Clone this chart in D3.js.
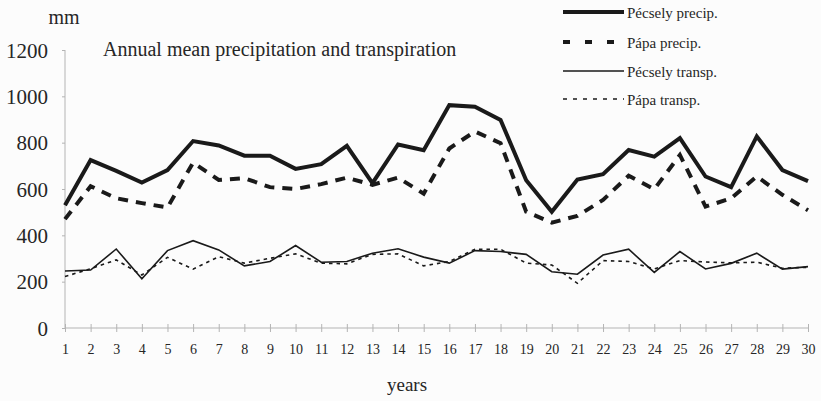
<!DOCTYPE html>
<html>
<head>
<meta charset="utf-8">
<script src="https://cdn.jsdelivr.net/npm/d3@7"></script>
<style>
  body { margin: 0; background: #fcfcfc; }
  svg { display: block; font-family: "Liberation Serif", "Times New Roman", serif; }
</style>
</head>
<body>
<svg class="d3-content" width="821" height="401"></svg>
<script>
//data
const years = [1, 2, 3, 4, 5, 6, 7, 8, 9, 10, 11, 12, 13, 14, 15, 16, 17, 18, 19, 20, 21, 22, 23, 24, 25, 26, 27, 28, 29, 30]
const pecselyPrecip = [530, 725, 678, 628, 682, 807, 788, 744, 744, 687, 707, 786, 625, 792, 767, 962, 955, 898, 638, 502, 641, 664, 768, 740, 820, 654, 608, 827, 682, 634]
const papaPrecip = [470, 612, 560, 539, 520, 714, 639, 647, 608, 600, 621, 649, 618, 649, 580, 775, 848, 798, 502, 455, 484, 553, 657, 599, 747, 524, 560, 654, 575, 508]
const pecselyTransp = [246, 250, 341, 212, 334, 377, 337, 268, 287, 356, 284, 287, 323, 342, 306, 280, 334, 330, 318, 243, 232, 315, 340, 240, 330, 255, 279, 323, 254, 265]
const papaTransp = [222, 256, 294, 229, 305, 254, 308, 280, 301, 320, 280, 277, 318, 320, 268, 287, 340, 340, 280, 272, 193, 291, 287, 255, 291, 285, 281, 284, 258, 262]
const yTicks = [0, 200, 400, 600, 800, 1000, 1200]
const seriesNames = ["Pécsely precip.", "Pápa precip.", "Pécsely transp.", "Pápa transp."]

//dimensions
const w = 821
const h = 401
const margin = { top: 50, right: 13, bottom: 73, left: 65 }
const ink = '#262626'

const svg = d3.select('.d3-content')

//scales
const xScale = d3.scaleLinear()
    .domain([d3.min(years), d3.max(years)])
    .range([margin.left, w - margin.right])
const yScale = d3.scaleLinear()
    .domain([0, 1200])
    .range([h - margin.bottom, margin.top])

//axes
const xAxis = d3.axisBottom(xScale)
    .tickValues(years)
    .tickFormat(d3.format('d'))
    .tickSize(4)
    .tickPadding(12)
const gx = svg.append('g')
    .attr('transform', `translate(0, ${h - margin.bottom})`)
    .call(xAxis)
    .attr('font-family', null)
    .attr('font-size', null)
gx.selectAll('.tick line').attr('y1', -4)
gx.select('.domain').attr('d', `M${margin.left},0H${w - margin.right}`)

const yAxis = d3.axisLeft(yScale)
    .tickValues(yTicks)
    .tickFormat(d3.format('d'))
    .tickSize(3)
    .tickPadding(14)
const gy = svg.append('g')
    .attr('transform', `translate(${margin.left}, 0)`)
    .call(yAxis)
    .attr('font-family', null)
    .attr('font-size', null)
gy.select('.domain').attr('d', `M0,${yScale(0)}V${yScale(1200)}`)

svg.selectAll('.domain, .tick line')
    .attr('stroke', '#b4b4b4')
    .attr('stroke-width', 1)
gx.selectAll('.tick text')
    .attr('fill', ink)
    .style('font-size', '14px')
gy.selectAll('.tick text')
    .attr('fill', ink)
    .style('font-size', '21px')
    .attr('dy', '0.34em')

//labels
svg.append('text')
    .attr('x', 64)
    .attr('y', 24)
    .attr('text-anchor', 'middle')
    .attr('fill', ink)
    .style('font-size', '20px')
    .text('mm')

svg.append('text')
    .attr('x', 407)
    .attr('y', 391)
    .attr('text-anchor', 'middle')
    .attr('fill', ink)
    .style('font-size', '19px')
    .text('years')

//title
svg.append('text')
    .attr('x', 103)
    .attr('y', 56)
    .attr('fill', ink)
    .style('font-size', '20px')
    .text('Annual mean precipitation and transpiration')

//lines
const styles = [
    { data: pecselyPrecip, width: 4, dash: null, legendDash: null },
    { data: papaPrecip, width: 4, dash: '10 8', legendDash: '7 15' },
    { data: pecselyTransp, width: 1.6, dash: null, legendDash: null },
    { data: papaTransp, width: 1.6, dash: '3.5 4', legendDash: '4 6' }
]

const line = d3.line()
    .x((d, i) => xScale(years[i]))
    .y(d => yScale(d))

styles.forEach(s => {
    svg.append('path')
        .attr('d', line(s.data))
        .attr('fill', 'none')
        .attr('stroke', '#1a1a1a')
        .attr('stroke-width', s.width)
        .attr('stroke-linejoin', 'miter')
        .attr('stroke-dasharray', s.dash)
})

//legend
const legendY = [12, 42, 71, 99]
styles.forEach((s, i) => {
    svg.append('line')
        .attr('x1', 563)
        .attr('x2', 624)
        .attr('y1', legendY[i])
        .attr('y2', legendY[i])
        .attr('stroke', '#1a1a1a')
        .attr('stroke-width', s.width)
        .attr('stroke-dasharray', s.legendDash)
    svg.append('text')
        .attr('x', 627)
        .attr('y', legendY[i] + 6)
        .attr('fill', ink)
        .style('font-size', '15px')
        .text(seriesNames[i])
})
</script>
</body>
</html>
